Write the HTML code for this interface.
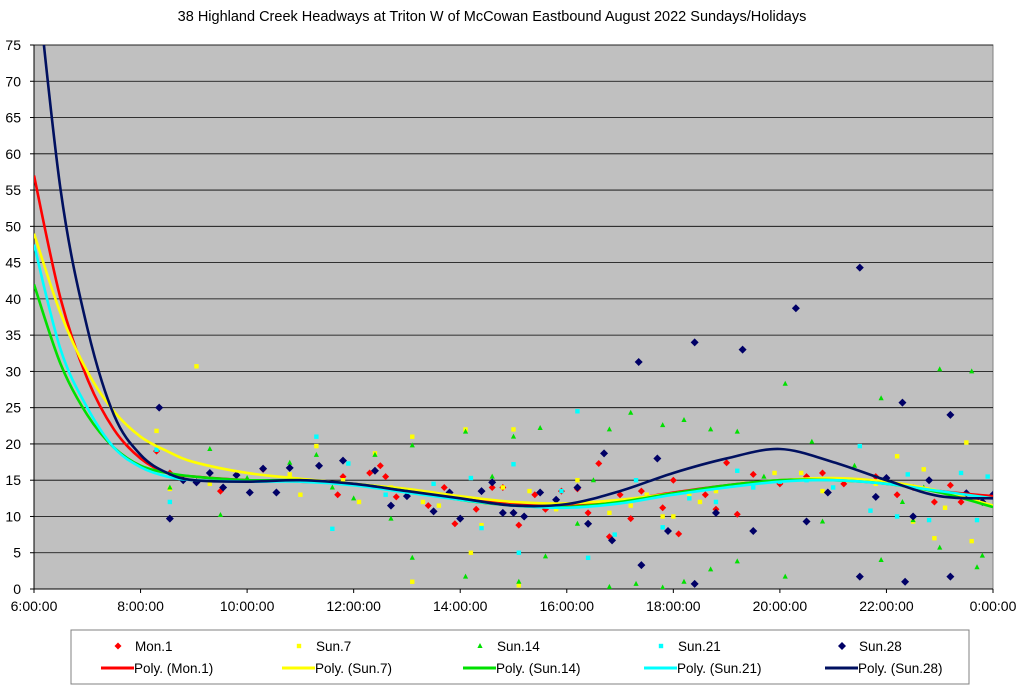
<!DOCTYPE html>
<html><head><meta charset="utf-8"><style>
body{margin:0;background:#fff;width:1024px;height:687px;overflow:hidden;font-family:"Liberation Sans",sans-serif}
</style></head><body>
<svg id="chart" width="1024" height="687" xmlns="http://www.w3.org/2000/svg" font-family="Liberation Sans, sans-serif">
<text x="492" y="21" text-anchor="middle" font-size="14.5" fill="#000">38 Highland Creek Headways at Triton W of McCowan Eastbound August 2022  Sundays/Holidays</text>
<defs><clipPath id="pc"><rect x="34" y="45" width="959" height="544"/></clipPath></defs>
<rect x="34" y="45" width="959" height="544" fill="#c0c0c0" stroke="#808080"/>
<g id="grid"></g><g id="axes"></g><g id="marks" clip-path="url(#pc)"></g><g id="legend"></g>
</svg>
<script>
const yTicks=[0,5,10,15,20,25,30,35,40,45,50,55,60,65,70,75];
const xTickLabels=["6:00:00","8:00:00","10:00:00","12:00:00","14:00:00","16:00:00","18:00:00","20:00:00","22:00:00","0:00:00"];
const seriesNames=["Mon.1","Sun.7","Sun.14","Sun.21","Sun.28"];
const colors=["#ff0000","#ffff00","#00e000","#00ffff","#000066"];
const lineColors=["#ff0000","#ffff00","#00e000","#00ffff","#001060"];
const trendTimes=[6,6.5,7,7.5,8,8.5,9,10,11,12,13,14,15,16,17,18,19,20,21,22,23,24];
const trendMon1=[57,40,29,22,18,16,15.5,15,14.8,14.5,13.5,12.5,11.7,11.6,12.2,13.3,14.3,15,15.2,14.7,13.5,12.8];
const trendSun7=[49,38,30,24.5,21,19,17.5,16,15.2,14.5,13.8,12.8,12,11.8,12.3,13.2,14.2,15,15.3,14.8,13.5,11.5];
const trendSun14=[42,31,24,19.5,17,16,15.5,15,15,14.5,13.5,12.3,11.5,11.3,12,13.2,14.3,15,15,14.5,13.3,11.3];
const trendSun21=[47.5,33,25,19.5,16.8,15.5,15,14.8,14.8,14.3,13.3,12.3,11.5,11.2,11.8,13,14,14.8,15,14.5,13.5,12.5];
const trendSun28=[88,55,36,24,18.5,16,15,14.8,15,14.5,13.5,12.5,11.5,11.7,13.5,16,18,19.3,17.5,15,12.8,12.5];
const mon1=[[8.3,19],[8.55,16],[9.5,13.5],[10.3,16.5],[11.7,13],[11.8,15.5],[12.3,16],[12.5,17],[12.6,15.5],[12.8,12.7],[13.4,11.5],[13.7,14],[13.9,9],[14.3,11],[14.6,14],[14.8,14],[15.1,8.8],[15.4,13],[15.6,11],[15.9,13.5],[16.2,13.8],[16.4,10.5],[16.6,17.3],[16.8,7.2],[17,13],[17.2,9.7],[17.4,13.5],[17.8,11.2],[18,15],[18.1,7.6],[18.6,13],[18.8,11],[19,17.4],[19.2,10.3],[19.5,15.8],[20,14.5],[20.5,15.5],[20.8,16],[21.2,14.5],[21.8,15.5],[22.2,13],[22.5,14],[22.9,12],[23.2,14.3],[23.4,12],[23.7,12.5]];
const sun7=[[8.3,21.8],[8.55,13.8],[9.05,30.7],[9.3,14.5],[10.8,15.8],[11,13],[11.3,19.7],[11.8,15],[12.1,12],[12.4,18.7],[12.7,14],[13.1,21],[13.1,1],[13.3,12],[13.6,11.5],[14.1,22],[14.2,5],[14.4,8.8],[14.8,14],[15,22],[15.1,0.5],[15.3,13.5],[15.8,11],[16.2,15],[16.4,9],[16.8,10.5],[17.2,11.5],[17.5,13],[17.8,10],[18,10],[18.3,13],[18.5,12],[18.8,13.5],[19.3,14.5],[19.9,16],[20.4,16],[20.8,13.5],[21.3,15],[21.8,14.5],[22.2,18.3],[22.5,9.3],[22.7,16.5],[22.9,7],[23.1,11.2],[23.5,20.2],[23.6,6.6]];
const sun14=[[8.55,14],[9.3,19.3],[9.5,10.2],[10,15.3],[10.8,17.4],[11.3,18.5],[11.6,14],[12,12.5],[12.4,18.5],[12.7,9.7],[13.1,4.3],[13.1,19.8],[14.1,21.7],[14.1,1.7],[14.6,15.5],[15,21],[15.1,1],[15.5,22.2],[15.6,4.5],[16.2,9],[16.5,15],[16.8,22],[16.8,0.3],[17.2,24.3],[17.3,0.7],[17.8,22.6],[17.8,0.2],[18.2,23.3],[18.2,1],[18.7,22],[18.7,2.7],[19.2,21.7],[19.2,3.8],[19.7,15.5],[20.1,28.3],[20.1,1.7],[20.6,20.3],[20.8,9.3],[21.4,17],[21.9,26.3],[21.9,4],[22.3,12],[22.5,9.5],[22.7,14],[23,30.3],[23,5.7],[23.6,30],[23.7,3],[23.8,4.6]];
const sun21=[[8.3,19.2],[8.55,12],[9.6,15],[11.3,21],[11.6,8.3],[11.9,17.3],[12.6,13],[13.5,14.5],[14.2,15.3],[14.4,8.4],[15,17.2],[15.1,5],[15.9,13.5],[16.2,24.5],[16.4,4.3],[16.9,7.5],[17.3,15],[17.8,8.5],[18.3,12.5],[18.8,12],[19.2,16.3],[19.5,14],[20,14.8],[20.5,15],[21,14],[21.5,19.7],[21.7,10.8],[22.2,10],[22.4,15.8],[22.8,9.5],[23.2,13],[23.4,16],[23.7,9.5],[23.9,15.5]];
const sun28=[[8.35,25],[8.55,9.7],[8.8,15],[9.05,14.7],[9.3,16],[9.55,14],[9.8,15.7],[10.05,13.3],[10.3,16.6],[10.55,13.3],[10.8,16.7],[11.35,17],[11.8,17.7],[12.4,16.3],[12.7,11.5],[13,12.8],[13.5,10.7],[13.8,13.3],[14,9.7],[14.4,13.5],[14.6,14.7],[14.8,10.5],[15,10.5],[15.2,10],[15.5,13.3],[15.8,12.3],[16.2,14],[16.4,9],[16.7,18.7],[16.85,6.7],[17.35,31.3],[17.4,3.3],[17.7,18],[17.9,8],[18.4,34],[18.4,0.7],[18.8,10.5],[19.3,33],[19.5,8],[20.3,38.7],[20.5,9.3],[20.9,13.3],[21.5,44.3],[21.5,1.7],[21.8,12.7],[22,15.3],[22.3,25.7],[22.35,1],[22.5,10],[22.8,15],[23.2,24],[23.2,1.7],[23.5,13.2],[23.8,12],[24,13]];

const NS="http://www.w3.org/2000/svg";
const X0=34,X1=993,Y0=589,Y1=45;
const xs=h=>X0+(h-6)/18*(X1-X0);
const ys=v=>Y0-v/75*(Y0-Y1);
function mk(tag,attrs,parent){const e=document.createElementNS(NS,tag);for(const k in attrs)e.setAttribute(k,attrs[k]);parent.appendChild(e);return e;}
const grid=document.getElementById('grid'),axes=document.getElementById('axes'),marks=document.getElementById('marks'),legend=document.getElementById('legend');
yTicks.forEach(v=>{
  if(v>0){const l=mk('line',{x1:X0,x2:X1,y1:ys(v),y2:ys(v),stroke:'#000','stroke-width':0.8},grid);
  
  }
  const t=mk('text',{x:21,y:ys(v)+5,'text-anchor':'end','font-size':14},axes);t.textContent=v;
  
  
  mk('line',{x1:X0-4,x2:X0,y1:ys(v),y2:ys(v),stroke:'#000'},axes);
});
xTickLabels.forEach((s,i)=>{
  const h=6+i*2;
  const t=mk('text',{x:xs(h),y:611,'text-anchor':'middle','font-size':14},axes);t.textContent=s;
  
  
  mk('line',{x1:xs(h),x2:xs(h),y1:Y0,y2:Y0+4,stroke:'#000'},axes);
});
mk('line',{x1:X0,x2:X0,y1:Y1,y2:Y0,stroke:'#000'},axes);
mk('line',{x1:X0,x2:X1,y1:Y0,y2:Y0,stroke:'#000'},axes);

function marker(i,x,y,p){
  let e;
  if(i===0||i===4){const r=i===4?4:3.5;e=mk('polygon',{points:`${x},${y-r} ${x+r},${y} ${x},${y+r} ${x-r},${y}`,fill:colors[i]},p);}
  else if(i===1){e=mk('rect',{x:x-2.2,y:y-2.2,width:4.4,height:4.4,fill:colors[i]},p);}
  else if(i===2){e=mk('polygon',{points:`${x},${y-3} ${x+2.6},${y+2} ${x-2.6},${y+2}`,fill:colors[i]},p);}
  else {e=mk('rect',{x:x-2.2,y:y-2.2,width:4.4,height:4.4,fill:colors[i]},p);}
  return e;
}
const pts=[mon1,sun7,sun14,sun21,sun28];
const trends=[trendMon1,trendSun7,trendSun14,trendSun21,trendSun28];
pts.forEach((arr,i)=>arr.forEach((p,j)=>{
  const e=marker(i,xs(p[0]),ys(p[1]),marks);
  
  
}));
function smooth(P){let d=`M${P[0][0]},${P[0][1]}`;for(let i=0;i<P.length-1;i++){const p0=P[Math.max(0,i-1)],p1=P[i],p2=P[i+1],p3=P[Math.min(P.length-1,i+2)];
const c1=[p1[0]+(p2[0]-p0[0])/6,p1[1]+(p2[1]-p0[1])/6],c2=[p2[0]-(p3[0]-p1[0])/6,p2[1]-(p3[1]-p1[1])/6];d+=` C${c1[0]},${c1[1]} ${c2[0]},${c2[1]} ${p2[0]},${p2[1]}`;}return d;}
trends.forEach((arr,i)=>{
  const P=trendTimes.map((t,k)=>[xs(t),ys(arr[k])]);
  const e=mk('path',{d:smooth(P),fill:'none',stroke:lineColors[i],'stroke-width':2.6},marks);
  
  
});
// legend
const lb=mk('rect',{x:71,y:630,width:898,height:54,fill:'#fff',stroke:'#808080'},legend);


seriesNames.forEach((n,i)=>{
  const x=118+i*181;
  const m=marker(i,x,646,legend);
  
  
  const t=mk('text',{x:x+17,y:651,'font-size':13.5},legend);t.textContent=n;
  
  
  const l=mk('line',{x1:x-17,x2:x+16,y1:668,y2:668,stroke:lineColors[i],'stroke-width':3},legend);
  
  
  const t2=mk('text',{x:x+16,y:673,'font-size':13.5},legend);t2.textContent='Poly. ('+n+')';
  
  
});
</script>
</body></html>
